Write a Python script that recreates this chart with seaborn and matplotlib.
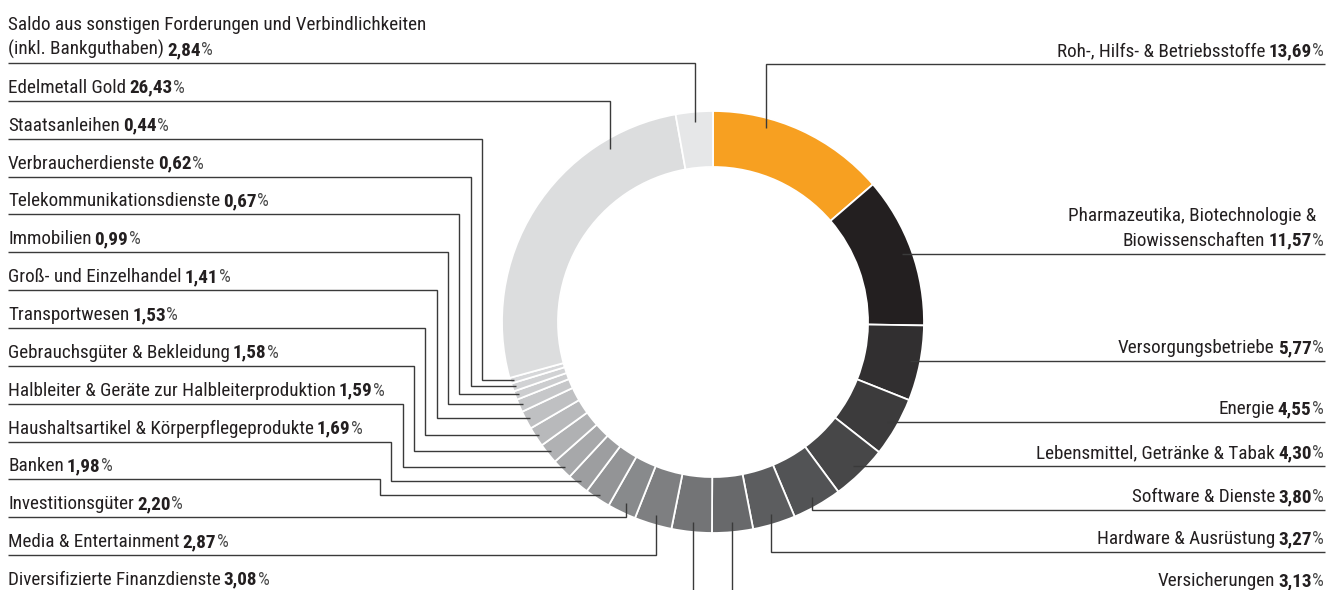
import numpy as np
import pandas as pd
import matplotlib
matplotlib.use("Agg")
import matplotlib.pyplot as plt
import seaborn as sns
from matplotlib import font_manager as fm

# ---------------- data ----------------
categories = [
    "Roh-, Hilfs- & Betriebsstoffe",
    "Pharmazeutika, Biotechnologie &\nBiowissenschaften",
    "Versorgungsbetriebe",
    "Energie",
    "Lebensmittel, Getränke & Tabak",
    "Software & Dienste",
    "Hardware & Ausrüstung",
    "Versicherungen",
    "Diversifizierte Finanzdienste",
    "Media & Entertainment",
    "Investitionsgüter",
    "Banken",
    "Haushaltsartikel & Körperpflegeprodukte",
    "Halbleiter & Geräte zur Halbleiterproduktion",
    "Gebrauchsgüter & Bekleidung",
    "Transportwesen",
    "Groß- und Einzelhandel",
    "Immobilien",
    "Telekommunikationsdienste",
    "Verbraucherdienste",
    "Staatsanleihen",
    "Edelmetall Gold",
    "Saldo aus sonstigen Forderungen und Verbindlichkeiten\n(inkl. Bankguthaben)",
]
values = [13.69, 11.57, 5.77, 4.55, 4.30, 3.80, 3.27, 3.13, 3.08, 2.87, 2.20,
          1.98, 1.69, 1.59, 1.58, 1.53, 1.41, 0.99, 0.67, 0.62, 0.44, 26.43, 2.84]
colors = ["#F7A021", "#231F20", "#312F30", "#3C3B3C", "#474748", "#525355",
          "#5C5D5F", "#68696B", "#737476", "#7E7F81", "#888A8C", "#939496",
          "#9D9EA0", "#A7A8AA", "#B0B1B3", "#B8B9BB", "#BFC0C2", "#C6C7C9",
          "#CCCDCF", "#D1D2D4", "#D6D7D9", "#DCDDDE", "#E6E7E8"]

right_order = [0, 1, 2, 3, 4, 5, 6, 7]
left_order = [22, 21, 20, 19, 18, 17, 16, 15, 14, 13, 12, 11, 10, 9, 8]

df = pd.DataFrame({"category": categories, "value": values, "color": colors})

# ---------------- style ----------------
sns.set_theme(style="white")
names = {f.name for f in fm.fontManager.ttflist}
stretch = "normal"
if "Liberation Sans Narrow" in names:
    fam = "Liberation Sans Narrow"
elif "Roboto Condensed" in names:
    fam = "Roboto Condensed"
elif any(f.name == "DejaVu Sans" and str(f.stretch) in ("condensed", "semi-condensed")
         for f in fm.fontManager.ttflist):
    fam = "DejaVu Sans"
    stretch = "condensed"
else:
    fam = "Roboto"
plt.rcParams["font.family"] = [fam, "DejaVu Sans"]
plt.rcParams["font.stretch"] = stretch

W_PX, H_PX = 1326, 590
fig = plt.figure(figsize=(W_PX / 100, H_PX / 100), dpi=100)
ax = fig.add_axes([0, 0, 1, 1])

TXT = "#231f20"
PCT = "#4a4a4a"
LINE = "#3a3a3a"
cx, cy, R, RW = 713, 322, 211, 56

wedges, _ = ax.pie(df["value"], colors=df["color"], radius=R, center=(cx, cy),
                   startangle=-90, counterclock=True,
                   wedgeprops=dict(width=RW, edgecolor="white", linewidth=1.3))
ax.set_xlim(0, W_PX)
ax.set_ylim(H_PX, 0)
ax.axis("off")

# font size fitted to the reference text width
fig.canvas.draw()
rend = fig.canvas.get_renderer()
probe = ax.text(0, 0, "Saldo aus sonstigen Forderungen und Verbindlichkeiten", fontsize=10)
fs = 10 * 419 / probe.get_window_extent(rend).width
probe.remove()

GAP_NUM = 2.2   # points between label and number
GAP_PCT = 0.4   # points between number and %
PCT_SCALE = 0.97


def fmt(v):
    return f"{v:.2f}".replace(".", ",")


def anchor(i, r, frac=0.5):
    w = wedges[i]
    th = np.deg2rad(w.theta1 + frac * (w.theta2 - w.theta1))
    return cx + r * np.cos(th), cy + r * np.sin(th)


frac = {0: 0.31, 21: 0.785}


def left_label(i, y_line):
    lines = categories[i].split("\n")
    yb = y_line - 8
    for k, ln in enumerate(lines[:-1]):
        ax.text(8, yb - 25 * (len(lines) - 1 - k), ln, fontsize=fs, color=TXT,
                ha="left", va="baseline")
    t1 = ax.text(8, yb, lines[-1], fontsize=fs, color=TXT, ha="left", va="baseline")
    t2 = ax.annotate(fmt(values[i]), xy=(1, 0), xycoords=t1, xytext=(GAP_NUM, 0),
                     textcoords="offset points", ha="left", va="bottom",
                     fontsize=fs, color=TXT, fontweight="bold")
    ax.annotate("%", xy=(1, 0), xycoords=t2, xytext=(GAP_PCT, 0),
                textcoords="offset points", ha="left", va="bottom",
                fontsize=fs * PCT_SCALE, color=PCT)


def right_label(i, y_line):
    lines = categories[i].split("\n")
    yb = y_line - 8
    for k, ln in enumerate(lines[:-1]):
        ax.text(1316, yb - 25 * (len(lines) - 1 - k), ln, fontsize=fs, color=TXT,
                ha="right", va="baseline")
    tp = ax.text(1324, yb, "%", fontsize=fs * PCT_SCALE, color=PCT, ha="right",
                 va="baseline")
    tn = ax.annotate(fmt(values[i]), xy=(0, 0), xycoords=tp, xytext=(-GAP_PCT, 0),
                     textcoords="offset points", ha="right", va="bottom",
                     fontsize=fs, color=TXT, fontweight="bold")
    ax.annotate(lines[-1], xy=(0, 0), xycoords=tn, xytext=(-GAP_NUM, 0),
                textcoords="offset points", ha="right", va="bottom",
                fontsize=fs, color=TXT)


def draw(pts):
    xs, ys = zip(*pts)
    ax.plot(xs, ys, color=LINE, lw=1.0, solid_joinstyle="miter",
            solid_capstyle="butt", zorder=5, clip_on=True)


# ---------------- left side ----------------
step_k = 0
for row, i in enumerate(left_order):
    y_line = 63 + 37.85 * row
    left_label(i, y_line)
    if i in (22, 21, 10, 9, 8):
        axx, ayy = anchor(i, 201, frac.get(i, 0.5))
        draw([(8, y_line), (axx, y_line), (axx, ayy)])
    else:
        axx, ayy = anchor(i, 207)
        ex = 482 - 11.35 * step_k
        step_k += 1
        draw([(8, y_line), (ex, y_line), (ex, ayy), (axx, ayy)])

# ---------------- right side ----------------
right_lines = {0: 64, 5: 510, 6: 552, 7: 594}
for i in right_order:
    axx, ayy = anchor(i, 201, frac.get(i, 0.5))
    if i in right_lines:
        y_line = right_lines[i]
        draw([(1325, y_line), (axx, y_line), (axx, ayy)])
    else:
        y_line = ayy
        draw([(axx, ayy), (1325, ayy)])
    right_label(i, y_line)

fig.savefig("out.png", dpi=100, facecolor="white")
